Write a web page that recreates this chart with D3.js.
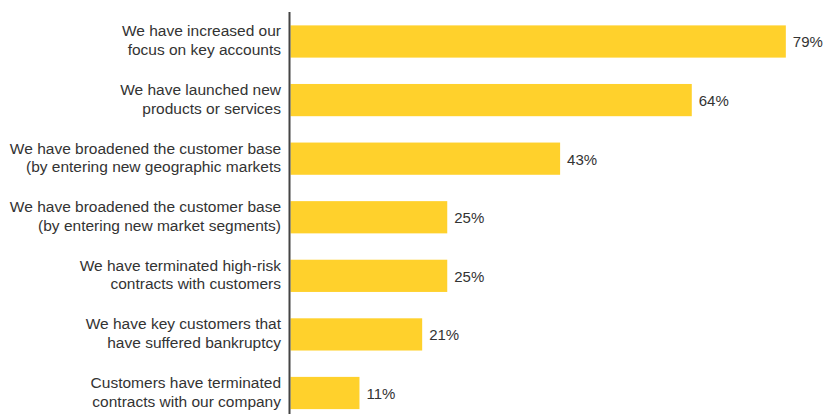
<!DOCTYPE html>
<html><head><meta charset="utf-8">
<script src="https://cdn.jsdelivr.net/npm/d3@7"></script>
<style>html,body{margin:0;padding:0;background:#fff;}svg{display:block;}</style>
</head><body>
<svg id="chart" width="823" height="414"></svg>
<script>
const categories = [
  ["We have increased our", "focus on key accounts"],
  ["We have launched new", "products or services"],
  ["We have broadened the customer base", "(by entering new geographic markets"],
  ["We have broadened the customer base", "(by entering new market segments)"],
  ["We have terminated high-risk", "contracts with customers"],
  ["We have key customers that", "have suffered bankruptcy"],
  ["Customers have terminated", "contracts with our company"]
];
const values = [79, 64, 43, 25, 25, 21, 11];
const valueLabels = ["79%", "64%", "43%", "25%", "25%", "21%", "11%"];

const svg = d3.select("#chart");
const x0 = 290.5;
const x = d3.scaleLinear().domain([0, 100]).range([x0, x0 + 627]);
const y = d3.scaleBand().domain(d3.range(values.length)).range([12.5, 422]).paddingInner(0.45).paddingOuter(0.22);

const barColor = "#FFD12C";
const textColor = "#333333";
const font = "Liberation Sans, Arial, sans-serif";

svg.selectAll("rect.bar").data(values).join("rect")
  .attr("class", "bar")
  .attr("x", x(0))
  .attr("y", (d, i) => y(i))
  .attr("width", d => x(d) - x(0))
  .attr("height", y.bandwidth())
  .attr("fill", barColor);

svg.selectAll("text.val").data(values).join("text")
  .attr("class", "val")
  .attr("x", d => x(d) + 7)
  .attr("y", (d, i) => y(i) + y.bandwidth() / 2 + 6)
  .attr("font-family", font).attr("font-size", 15).attr("fill", textColor)
  .text((d, i) => valueLabels[i]);

const labels = svg.selectAll("text.cat").data(categories).join("text")
  .attr("class", "cat")
  .attr("text-anchor", "end")
  .attr("font-family", font).attr("font-size", 15.5).attr("fill", textColor);
labels.each(function(lines, i) {
  const t = d3.select(this);
  lines.forEach((ln, j) => {
    t.append("tspan").attr("x", 281).attr("y", y(i) + 11 + j * 18.7).text(ln);
  });
});

svg.append("line")
  .attr("x1", 289.5).attr("x2", 289.5)
  .attr("y1", 12).attr("y2", 414)
  .attr("stroke", "#444").attr("stroke-width", 2);
</script>
</body></html>
